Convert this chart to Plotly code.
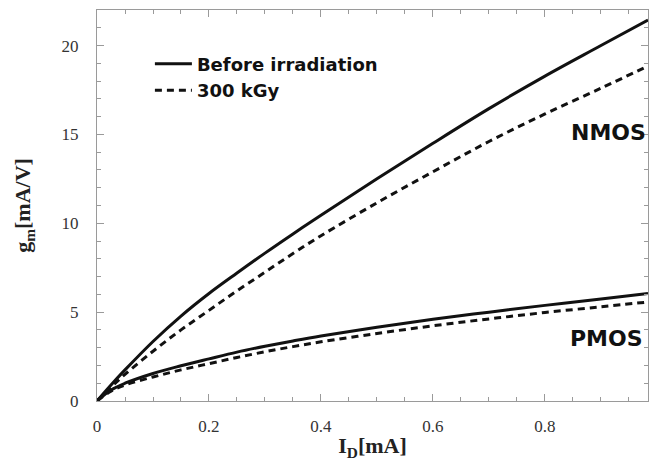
import plotly.graph_objects as go

# I_D [mA]
id_ma = [0, 0.025, 0.05, 0.1, 0.15, 0.2, 0.25, 0.3, 0.35, 0.4, 0.5, 0.6, 0.7, 0.8, 0.9, 0.984]

# g_m [mA/V]
nmos_before = [0, 0.9, 1.75, 3.35, 4.78, 6.05, 7.2, 8.32, 9.4, 10.45, 12.5, 14.5, 16.45, 18.28, 20.0, 21.44]
nmos_300kgy = [0, 0.78, 1.5, 2.8, 4.0, 5.1, 6.2, 7.25, 8.3, 9.3, 11.15, 12.9, 14.6, 16.15, 17.6, 18.85]
pmos_before = [0, 0.62, 1.0, 1.55, 1.98, 2.37, 2.75, 3.08, 3.38, 3.66, 4.15, 4.6, 5.0, 5.38, 5.74, 6.05]
pmos_300kgy = [0, 0.55, 0.9, 1.35, 1.75, 2.1, 2.45, 2.77, 3.06, 3.33, 3.8, 4.23, 4.62, 4.98, 5.3, 5.57]

legend_names = ["Before irradiation", "300 kGy"]
x_ticks = [0, 0.2, 0.4, 0.6, 0.8]
x_ticktext = ["0", "0.2", "0.4", "0.6", "0.8"]
y_ticks = [0, 5, 10, 15, 20]
x_range = [0, 0.984]
y_range = [0, 22]

BLACK = "#111111"
FRAME = "#9a9a9a"
solid = dict(color=BLACK, width=3)
dashed = dict(color=BLACK, width=3, dash="7px,5px")

fig = go.Figure()
fig.add_trace(go.Scatter(x=id_ma, y=nmos_before, mode="lines", line=solid,
                         line_shape="spline", name=legend_names[0]))
fig.add_trace(go.Scatter(x=id_ma, y=nmos_300kgy, mode="lines", line=dashed,
                         line_shape="spline", name=legend_names[1]))
fig.add_trace(go.Scatter(x=id_ma, y=pmos_before, mode="lines", line=solid,
                         line_shape="spline", name=legend_names[0], showlegend=False))
fig.add_trace(go.Scatter(x=id_ma, y=pmos_300kgy, mode="lines", line=dashed,
                         line_shape="spline", name=legend_names[1], showlegend=False))
# empty traces so the extra tick-only axes (top / right / inner left) are drawn
fig.add_trace(go.Scatter(x=[], y=[], xaxis="x2", yaxis="y2", showlegend=False,
                         hoverinfo="skip"))
fig.add_trace(go.Scatter(x=[], y=[], xaxis="x", yaxis="y3", showlegend=False,
                         hoverinfo="skip"))

tick_font = dict(family="Liberation Serif", size=17, color="#333333")
title_font = dict(family="Liberation Serif", size=22, color="#222222")
tick_only = dict(showticklabels=False, showgrid=False, zeroline=False, showline=True,
                 linecolor=FRAME, ticks="inside", ticklen=7, tickcolor=FRAME)

fig.update_layout(
    xaxis=dict(
        range=x_range, tickvals=x_ticks, ticktext=x_ticktext,
        showgrid=False, zeroline=False, showline=True, linecolor=FRAME,
        ticks="inside", ticklen=7, tickcolor=FRAME, tickfont=tick_font,
        minor=dict(dtick=0.05, ticks="inside", ticklen=4, tickcolor=FRAME),
        ticklabelstandoff=10,
        title=dict(text="<b>I<sub>D</sub>[mA]</b>", standoff=2, font=title_font),
    ),
    yaxis=dict(
        range=y_range, tickvals=y_ticks,
        showgrid=False, zeroline=False, showline=True, linecolor=FRAME,
        ticks="outside", ticklen=14, tickcolor="rgba(0,0,0,0)", tickfont=tick_font,
        title=dict(text="<b>g<sub>m</sub>[mA/V]</b>", standoff=24, font=title_font),
    ),
    yaxis3=dict(
        overlaying="y", side="left", anchor="x", range=y_range, tickvals=y_ticks,
        minor=dict(dtick=1, ticks="inside", ticklen=4, tickcolor=FRAME),
        **tick_only,
    ),
    xaxis2=dict(
        overlaying="x", side="top", anchor="y", range=x_range, tickvals=x_ticks,
        minor=dict(dtick=0.05, ticks="inside", ticklen=4, tickcolor=FRAME),
        **tick_only,
    ),
    yaxis2=dict(
        overlaying="y", side="right", anchor="x", range=y_range, tickvals=y_ticks,
        minor=dict(dtick=1, ticks="inside", ticklen=4, tickcolor=FRAME),
        **tick_only,
    ),
)

fig.add_annotation(x=0.984, y=15.1, xref="x", yref="y", text="<b>NMOS</b>",
                   showarrow=False, xanchor="right", yanchor="middle",
                   font=dict(family="DejaVu Sans", size=22, color=BLACK))
fig.add_annotation(x=0.979, y=3.52, xref="x", yref="y", text="<b>PMOS</b>",
                   showarrow=False, xanchor="right", yanchor="middle",
                   font=dict(family="DejaVu Sans", size=22, color=BLACK))

fig.update_layout(
    width=653, height=465,
    margin=dict(l=97, r=5, t=10, b=64),
    paper_bgcolor="white", plot_bgcolor="white",
    showlegend=True,
    legend=dict(x=0.096, y=0.909, xanchor="left", yanchor="top",
                bgcolor="rgba(0,0,0,0)", itemwidth=37, tracegroupgap=0,
                font=dict(family="DejaVu Sans", size=18, color=BLACK, weight="bold")),
)

fig.write_html("out.html")
